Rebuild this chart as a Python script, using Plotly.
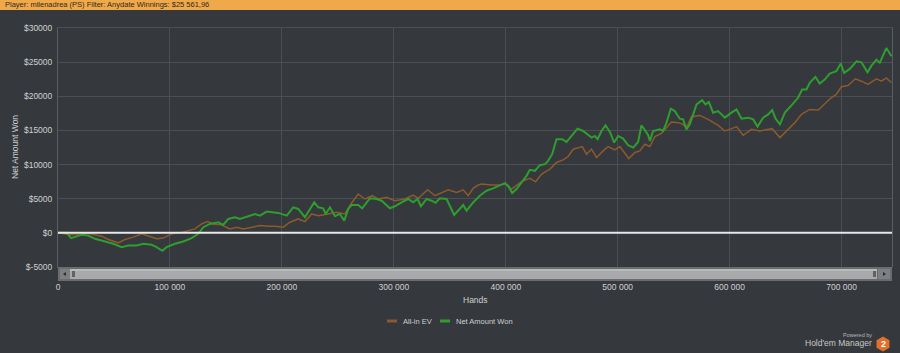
import plotly.graph_objects as go

# ---------------- data ----------------
hands_net = [
    0, 7800, 11600, 16700, 21100, 27000, 33000, 42000, 49400, 56900,
    62800, 70200, 76200, 83600, 88100, 93200, 97000, 104500, 111900, 119400,
    125300, 129800, 135700, 143200, 147600, 152100, 158100, 162500, 170000, 176000,
    180400, 186400, 196800, 204300, 210100, 214600, 220600, 225000, 228900, 232500,
    236900, 239100, 242900, 247400, 251800, 255700, 259300, 262300, 268200, 271700,
    278600, 284600, 289100, 296500, 300900, 306900, 312800, 317300, 321200, 324200,
    329300, 333700, 337300, 341100, 347100, 353900, 359000, 362000, 364900, 370900,
    376800, 382800, 388700, 393200, 399200, 402100, 405700, 409600, 414100, 418500,
    421500, 426000, 430400, 434900, 437800, 441400, 445300, 450400, 454300, 458700,
    464100, 469100, 473600, 476600, 479600, 482000, 485500, 489100, 493000, 496800,
    500400, 504800, 509300, 513800, 518200, 521200, 524800, 527200, 528700, 531600,
    537600, 540500, 543600, 547400, 551000, 555400, 558400, 561400, 564400, 566500,
    570400, 575400, 578400, 581400, 585200, 589700, 595700, 601600, 606100, 610600,
    616500, 621000, 624900, 629900, 634400, 638000, 641000, 644900, 649300, 655200,
    661100, 664700, 668600, 671500, 676600, 680400, 684900, 689400, 695300, 699200,
    702200, 707300, 713300, 717700, 723100, 726700, 731100, 734100, 740000, 744500,
]
net_amount_won = [
    0, 0, -770, -480, -290, -390, -870, -1260, -1600, -2090,
    -1850, -1850, -1600, -1750, -2090, -2620, -2090, -1600, -1260, -770,
    -150, 830, 1310, 1560, 1170, 2040, 2290, 2040, 2430, 2770,
    2520, 3110, 2920, 2520, 3740, 3500, 2290, 3500, 4470, 3740,
    3600, 2770, 3740, 2430, 2770, 1790, 3500, 4080, 4080, 3600,
    5060, 4960, 4710, 3600, 3890, 4470, 4960, 4470, 4960, 3890,
    4960, 4710, 4400, 5060, 4960, 2620, 3500, 4080, 3250, 4470,
    5440, 6170, 6520, 6900, 7290, 6900, 5830, 6420, 7390, 8350,
    9230, 9080, 9910, 10060, 10540, 11520, 13710, 13710, 13310, 14190,
    15260, 14920, 14290, 13950, 14190, 13710, 14920, 15750, 14770, 13220,
    14190, 13810, 12830, 12490, 13310, 15750, 14920, 14290, 13460, 14920,
    15160, 14920, 16140, 18180, 17830, 16720, 16620, 15160, 15890, 16870,
    18810, 19440, 18810, 19150, 17600, 17830, 16870, 17600, 18080, 16720,
    16870, 16620, 15560, 16870, 17350, 17980, 16720, 15890, 17600, 18660,
    19780, 21000, 21000, 21970, 22850, 21870, 22450, 23330, 23660, 24790,
    23430, 24010, 25120, 24980, 23520, 24490, 25370, 24890, 27080, 25850,
]

hands_ev = [
    0, 10700, 21100, 24100, 33000, 39000, 44900, 53800, 59800, 67300,
    74700, 80700, 88100, 94000, 101500, 108900, 116400, 122300, 128300, 133600,
    138700, 146100, 153600, 159600, 165500, 173000, 180400, 187800, 193800, 201200,
    207200, 214600, 220600, 226600, 232500, 241400, 248900, 256300, 261600, 268200,
    274200, 280700, 286000, 293500, 300900, 309900, 317300, 321800, 330200, 336700,
    344100, 348600, 356000, 362000, 366400, 370900, 375400, 378400, 387300, 394700,
    399200, 405200, 411100, 415500, 421500, 426600, 432000, 439400, 445300, 451200,
    455700, 460200, 468300, 472100, 476600, 481100, 487000, 491400, 497400, 501900,
    509900, 515300, 519700, 524200, 528700, 533100, 539100, 543600, 548000, 554000,
    558400, 561400, 565900, 573300, 580700, 589700, 595700, 600100, 606100, 612000,
    619500, 626900, 632900, 638000, 644900, 650700, 658200, 664100, 671500, 679200,
    684900, 690600, 695300, 699800, 705700, 712300, 717700, 723600, 731100, 735500,
    740000, 744500,
]
allin_ev = [
    0, -290, -150, 0, -290, -490, -970, -1460, -970, -630,
    -150, -490, -870, -770, -150, 0, 340, 580, 1310, 1650,
    1310, 1170, 580, 830, 580, 830, 1060, 980, 980, 830,
    1560, 2040, 1650, 2770, 2520, 2770, 3010, 2770, 4230, 5690,
    4960, 5440, 4960, 5200, 4710, 4960, 5540, 5060, 6310, 5440,
    6020, 6310, 5930, 6310, 5440, 6520, 7000, 7140, 7000, 7000,
    7140, 6420, 7140, 7630, 7980, 7480, 8600, 9330, 10310, 10690,
    11180, 12250, 12640, 11520, 12250, 11040, 12000, 12640, 12150, 12640,
    10890, 11770, 12000, 12980, 12640, 14100, 14580, 15410, 16230, 16140,
    15890, 15410, 17010, 17200, 16620, 15750, 14920, 15160, 15560, 14290,
    15160, 14920, 15160, 15260, 13950, 14920, 16140, 17350, 18080, 17980,
    18810, 19780, 20270, 21390, 21580, 22560, 22210, 21730, 22560, 22210,
    22700, 21970,
]
assert len(hands_net) == len(net_amount_won)
assert len(hands_ev) == len(allin_ev)

y_ticks = [-5000, 0, 5000, 10000, 15000, 20000, 25000, 30000]
y_tick_text = ["$-5000", "$0", "$5000", "$10000", "$15000", "$20000", "$25000", "$30000"]
x_ticks = [0, 100000, 200000, 300000, 400000, 500000, 600000, 700000]
x_tick_text = ["0", "100 000", "200 000", "300 000", "400 000", "500 000", "600 000", "700 000"]

series_names = ["All-in EV", "Net Amount Won"]
header_text = "Player: milenadrea (PS) Filter: Anydate Winnings: $25 561,96"

# ---------------- styles ----------------
BG = "#35383c"
GRID = "#4b4e53"
TXT = "#cfd0d2"
BROWN = "#8c5a2c"
GREEN = "#2e9e2e"
FONT = "Liberation Sans"

W, H = 900, 353
L, R, T, B = 58, 8, 28, 86
PW, PH = W - L - R, H - T - B


def px(x):  # pixel -> paper x
    return (x - L) / PW


def py(y):  # pixel -> paper y
    return (H - B - y) / PH


fig = go.Figure()
fig.add_trace(go.Scatter(x=hands_ev, y=allin_ev, mode="lines", name=series_names[0],
                         line=dict(color=BROWN, width=1.5), showlegend=False))
fig.add_trace(go.Scatter(x=hands_net, y=net_amount_won, mode="lines", name=series_names[1],
                         line=dict(color=GREEN, width=2), showlegend=False))

shapes = []
annotations = []

# header bar
shapes.append(dict(type="rect", xref="paper", yref="paper", x0=px(0), x1=px(W), y0=py(10), y1=py(0),
                   fillcolor="#f0a94a", line=dict(width=0), layer="below"))
annotations.append(dict(text=header_text, xref="paper", yref="paper", x=px(3), y=py(5),
                        xanchor="left", yanchor="middle", showarrow=False,
                        font=dict(family=FONT, size=7.5, color="#2e2a22")))

# zero line
shapes.append(dict(type="line", xref="paper", yref="y", x0=0, x1=1, y0=0, y1=0,
                   line=dict(color="#e8e8e8", width=2), layer="above"))

# scrollbar
sb_top, sb_bot = 267, 281
shapes.append(dict(type="rect", xref="paper", yref="paper", x0=px(58), x1=px(892), y0=py(sb_bot), y1=py(sb_top),
                   fillcolor="#6a6c70", line=dict(width=0), layer="above"))
shapes.append(dict(type="rect", xref="paper", yref="paper", x0=px(60), x1=px(70), y0=py(sb_bot - 2), y1=py(sb_top + 2),
                   fillcolor="#7d7f83", line=dict(width=0), layer="above"))
shapes.append(dict(type="rect", xref="paper", yref="paper", x0=px(878), x1=px(890), y0=py(sb_bot - 2), y1=py(sb_top + 2),
                   fillcolor="#7d7f83", line=dict(width=0), layer="above"))
shapes.append(dict(type="rect", xref="paper", yref="paper", x0=px(70), x1=px(877), y0=py(sb_bot - 2), y1=py(sb_top + 2),
                   fillcolor="#a7a9ab", line=dict(width=0), layer="above"))
shapes.append(dict(type="rect", xref="paper", yref="paper", x0=px(70), x1=px(877), y0=py(sb_top + 4), y1=py(sb_top + 2),
                   fillcolor="#b8babc", line=dict(width=0), layer="above"))
# arrows
shapes.append(dict(type="path", xref="paper", yref="paper",
                   path=f"M {px(63)},{py(274)} L {px(66)},{py(272)} L {px(66)},{py(276)} Z",
                   fillcolor="#2b2b2b", line=dict(width=0), layer="above"))
shapes.append(dict(type="path", xref="paper", yref="paper",
                   path=f"M {px(886)},{py(274)} L {px(883)},{py(272)} L {px(883)},{py(276)} Z",
                   fillcolor="#2b2b2b", line=dict(width=0), layer="above"))
# grips
for gx in (72, 873):
    shapes.append(dict(type="rect", xref="paper", yref="paper", x0=px(gx), x1=px(gx + 3), y0=py(277), y1=py(271),
                       fillcolor="#606264", line=dict(width=0), layer="above"))

# axis titles
annotations.append(dict(text="Net Amount Won", xref="paper", yref="paper", x=px(15), y=py(147),
                        textangle=-90, showarrow=False, xanchor="center", yanchor="middle",
                        font=dict(family=FONT, size=8.5, color=TXT)))
annotations.append(dict(text="Hands", xref="paper", yref="paper", x=px(475), y=py(300),
                        showarrow=False, xanchor="center", yanchor="middle",
                        font=dict(family=FONT, size=8.5, color=TXT)))

# legend (manual)
leg_y = 321
shapes.append(dict(type="line", xref="paper", yref="paper", x0=px(387), x1=px(397), y0=py(leg_y), y1=py(leg_y),
                   line=dict(color=BROWN, width=3)))
annotations.append(dict(text=series_names[0], xref="paper", yref="paper", x=px(401), y=py(leg_y),
                        showarrow=False, xanchor="left", yanchor="middle",
                        font=dict(family=FONT, size=7.5, color=TXT)))
shapes.append(dict(type="line", xref="paper", yref="paper", x0=px(440), x1=px(450), y0=py(leg_y), y1=py(leg_y),
                   line=dict(color=GREEN, width=3)))
annotations.append(dict(text=series_names[1], xref="paper", yref="paper", x=px(454), y=py(leg_y),
                        showarrow=False, xanchor="left", yanchor="middle",
                        font=dict(family=FONT, size=7.5, color=TXT)))

# powered by logo
annotations.append(dict(text="Powered by", xref="paper", yref="paper", x=px(874), y=py(335),
                        showarrow=False, xanchor="right", yanchor="middle",
                        font=dict(family=FONT, size=5.5, color="#b8b8b8")))
annotations.append(dict(text="Hold'em Manager", xref="paper", yref="paper", x=px(874), y=py(343),
                        showarrow=False, xanchor="right", yanchor="middle",
                        font=dict(family=FONT, size=8.5, color="#c8c8c8")))
cx, cy, r = 883, 344, 7.5
hexpath = "M " + " L ".join(
    f"{px(cx + dx * r)},{py(cy + dy * r)}"
    for dx, dy in [(0, -1), (0.866, -0.5), (0.866, 0.5), (0, 1), (-0.866, 0.5), (-0.866, -0.5)]
) + " Z"
shapes.append(dict(type="path", xref="paper", yref="paper", path=hexpath,
                   fillcolor="#e0702a", line=dict(width=0)))
annotations.append(dict(text="<b>2</b>", xref="paper", yref="paper", x=px(cx), y=py(cy),
                        showarrow=False, xanchor="center", yanchor="middle",
                        font=dict(family=FONT, size=9, color="white")))

fig.update_layout(
    width=W, height=H,
    margin=dict(l=L, r=R, t=T, b=B),
    paper_bgcolor=BG, plot_bgcolor=BG,
    showlegend=False,
    shapes=shapes, annotations=annotations,
    font=dict(family=FONT, size=8.5, color=TXT),
    xaxis=dict(range=[0, 745000], tickvals=x_ticks, ticktext=x_tick_text,
               showgrid=True, gridcolor=GRID, gridwidth=1, zeroline=False,
               showline=True, linecolor=GRID, mirror=True,
               ticks="outside", ticklen=12, tickcolor="rgba(0,0,0,0)",
               tickfont=dict(family=FONT, size=8.5, color=TXT), fixedrange=True),
    yaxis=dict(range=[-5000, 30000], tickvals=y_ticks, ticktext=y_tick_text,
               showgrid=True, gridcolor=GRID, gridwidth=1, zeroline=False,
               showline=True, linecolor="#5a5d61", mirror=True,
               ticks="outside", ticklen=3, tickcolor="rgba(0,0,0,0)",
               tickfont=dict(family=FONT, size=8.5, color=TXT), fixedrange=True),
)

fig.write_html("out.html")
